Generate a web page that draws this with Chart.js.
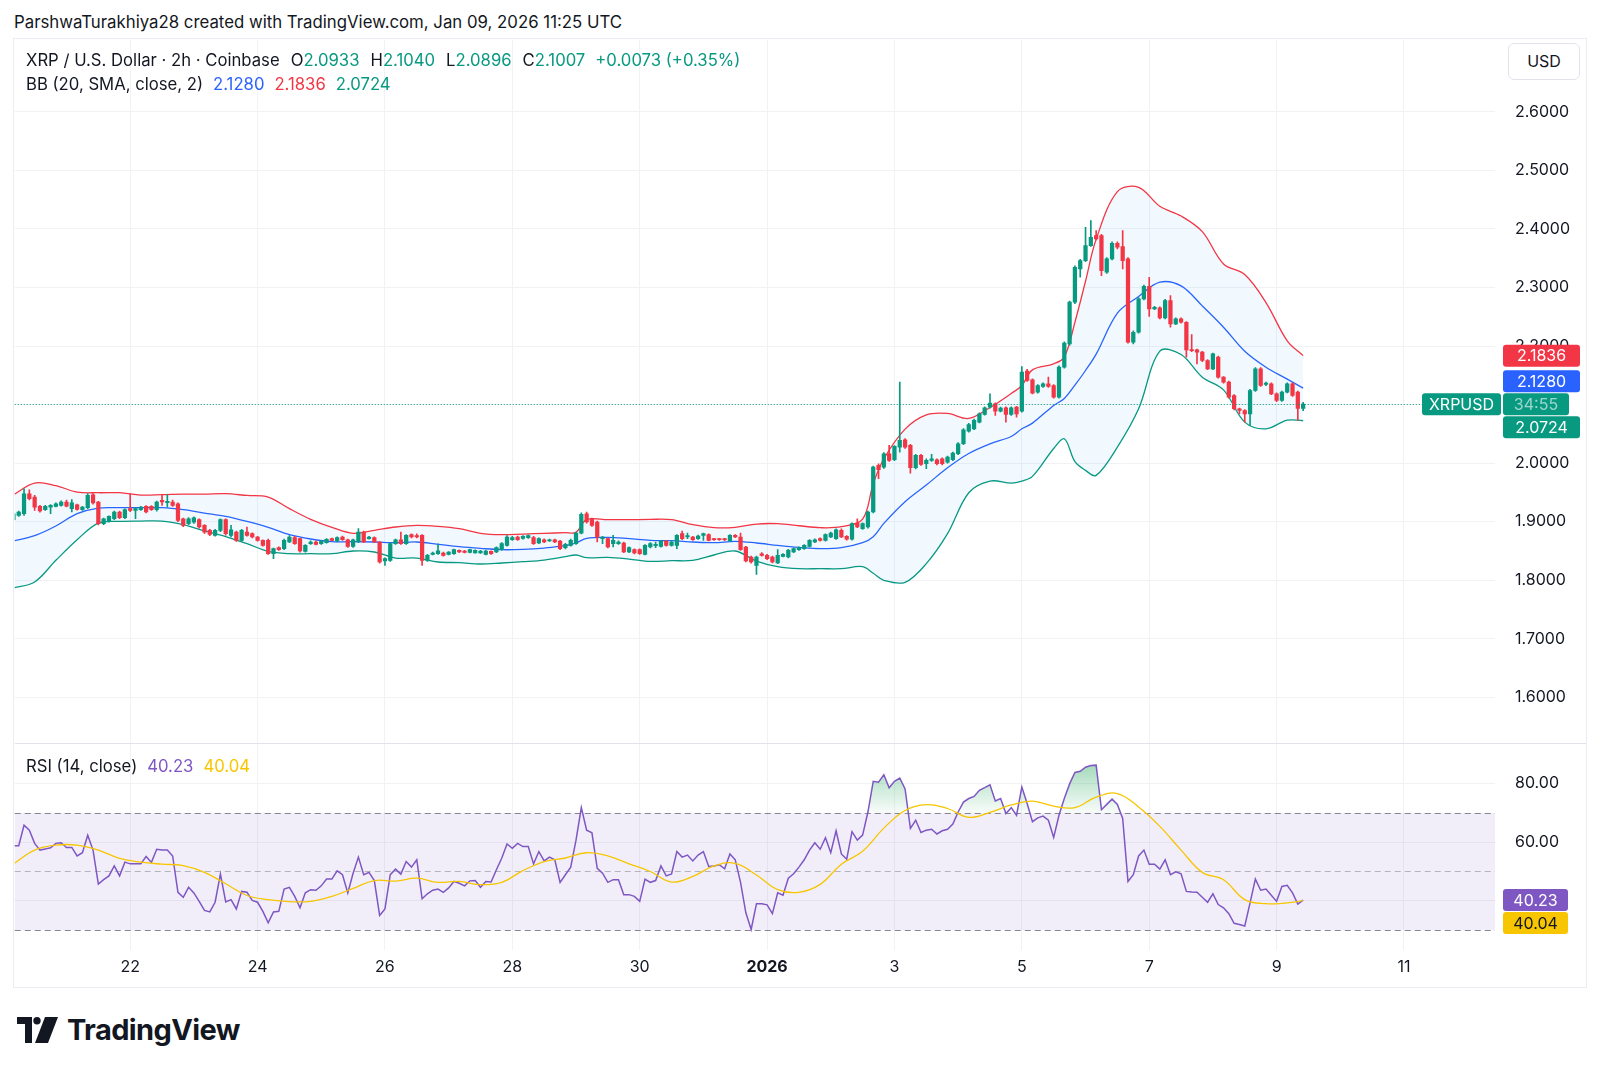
<!DOCTYPE html>
<html>
<head>
<meta charset="utf-8">
<title>XRP / U.S. Dollar · 2h · Coinbase</title>
<script src="https://cdn.jsdelivr.net/npm/chart.js@4.4.1/dist/chart.umd.min.js"></script>
<style>
  html, body { margin: 0; padding: 0; background: #fff; }
  body { width: 1600px; height: 1071px; position: relative; overflow: hidden;
         font-family: Inter, "Noto Sans", sans-serif; color: #131722; }
  #credit { position: absolute; left: 14px; top: 12px; font-size: 16.8px; line-height: 20px; white-space: nowrap; }
  #frame { position: absolute; left: 13px; top: 38px; width: 1574px; height: 950px;
           border: 1px solid #E9ECF1; box-sizing: border-box; }
  #wrap { position: absolute; left: 0; top: 0; width: 1572px; height: 948px; }
  .legend { position: absolute; left: 12px; font-size: 16.7px; line-height: 20px; white-space: nowrap; }
  .legend span { margin-left: 10px; }
  .legend span.k { margin-left: 11px; }
  .legend span.v { margin-left: 0; }
  #usd { position: absolute; left: 1494px; top: 4px; width: 72px; height: 37px; box-sizing: border-box;
         border: 1px solid #E0E3EB; border-radius: 6px; font-size: 16px; line-height: 35px; text-align: center; background: #fff; }
  #logo { position: absolute; left: 17px; top: 1016px; display: flex; align-items: center; }
  #logo span { font-size: 29px; font-weight: 700; letter-spacing: -0.6px; margin-left: 8px; line-height: 28px; }
</style>
</head>
<body>
<div id="credit">ParshwaTurakhiya28 created with TradingView.com, Jan 09, 2026 11:25 UTC</div>
<div id="frame">
  <div id="wrap"><canvas id="chart" width="1572" height="948"></canvas></div>
  <div class="legend" id="lg1" style="top:11px"></div>
  <div class="legend" id="lg2" style="top:35px"></div>
  <div class="legend" id="lg3" style="top:717px"></div>
  <div id="usd">USD</div>
</div>
<div id="logo">
  <svg width="42" height="26" viewBox="0 0 42 26">
    <path d="M0 0h15v26h-7V7H0z" fill="#131722"/>
    <circle cx="20" cy="3.7" r="3.7" fill="#131722"/>
    <path d="M28 0h13l-10 26H18z" fill="#131722"/>
  </svg>
  <span>TradingView</span>
</div>
<script>
// XRP / USD, 2h candles, Coinbase — Dec 20 04:00 UTC to Jan 9 10:00 UTC
// x values are hours after Dec 22 00:00 UTC
const firstHour = -44;
const stepHours = 2;

const tickHours = [0, 48, 96, 144, 192, 240, 288, 336, 384, 432, 480];
const tickLabels = ['22', '24', '26', '28', '30', '2026', '3', '5', '7', '9', '11'];
const priceTicks = [1.6, 1.7, 1.8, 1.9, 2.0, 2.1, 2.2, 2.3, 2.4, 2.5, 2.6];
const rsiTicks = [40, 60, 80];

const open = [
  1.9033,1.9107,1.9135,1.9477,1.9420,1.9261,1.9204,1.9249,1.9261,1.9278,
  1.9335,1.9221,1.9289,1.9204,1.9238,1.9460,1.9335,1.8965,1.9010,1.9050,
  1.9164,1.9067,1.9221,1.9190,1.9204,1.9261,1.9261,1.9204,1.9363,1.9325,
  1.9335,1.9306,1.9050,1.8965,1.8990,1.9033,1.8936,1.8851,1.8765,1.8851,
  1.9033,1.8765,1.8822,1.8680,1.8822,1.8794,1.8737,1.8680,1.8680,1.8452,
  1.8555,1.8538,1.8652,1.8726,1.8709,1.8492,1.8623,1.8652,1.8623,1.8640,
  1.8709,1.8669,1.8737,1.8691,1.8578,1.8652,1.8822,1.8709,1.8726,1.8652,
  1.8327,1.8339,1.8623,1.8691,1.8623,1.8777,1.8760,1.8765,1.8339,1.8441,
  1.8452,1.8464,1.8441,1.8452,1.8510,1.8498,1.8475,1.8464,1.8464,1.8441,
  1.8492,1.8481,1.8521,1.8595,1.8691,1.8737,1.8714,1.8726,1.8726,1.8635,
  1.8691,1.8669,1.8691,1.8669,1.8555,1.8595,1.8623,1.8805,1.9135,1.9050,
  1.8993,1.8709,1.8709,1.8623,1.8623,1.8635,1.8481,1.8521,1.8521,1.8441,
  1.8566,1.8589,1.8578,1.8669,1.8595,1.8595,1.8794,1.8737,1.8737,1.8709,
  1.8765,1.8777,1.8709,1.8709,1.8709,1.8669,1.8765,1.8737,1.8566,1.8395,
  1.8253,1.8452,1.8424,1.8395,1.8293,1.8407,1.8395,1.8481,1.8521,1.8538,
  1.8578,1.8652,1.8709,1.8680,1.8737,1.8709,1.8851,1.8748,1.8700,1.8976,
  1.8879,1.8908,1.9164,1.9960,1.9932,2.0160,2.0057,2.0273,2.0399,2.0302,
  1.9921,2.0131,1.9989,2.0046,2.0057,2.0074,2.0017,2.0057,2.0160,2.0330,
  2.0546,2.0586,2.0700,2.0831,2.0956,2.1013,2.0888,2.0945,2.0831,2.0956,
  2.0888,2.1571,2.1423,2.1212,2.1309,2.1355,2.1326,2.1127,2.1639,2.2037,
  2.2749,2.3318,2.3460,2.3716,2.3887,2.3887,2.3261,2.3488,2.3756,2.3699,
  2.3488,2.2066,2.2236,2.2806,2.3022,2.2635,2.2652,2.2481,2.2777,2.2379,
  2.2464,2.2407,2.1935,2.1935,2.1895,2.1753,2.1611,2.1810,2.1468,2.1383,
  2.1155,2.0928,2.0899,2.0842,2.1241,2.1611,2.1343,2.1354,2.1184,2.1070,
  2.1212,2.1354,2.1212,2.0933
];
const high = [
  1.9164,1.9180,1.9560,1.9545,1.9448,1.9280,1.9280,1.9290,1.9320,1.9355,
  1.9370,1.9375,1.9300,1.9260,1.9480,1.9480,1.9345,1.9060,1.9100,1.9180,
  1.9180,1.9220,1.9477,1.9235,1.9260,1.9275,1.9275,1.9350,1.9448,1.9460,
  1.9370,1.9320,1.9060,1.9070,1.9080,1.9050,1.8950,1.8870,1.8870,1.9050,
  1.9050,1.8936,1.8840,1.8870,1.8908,1.8810,1.8750,1.8690,1.8700,1.8550,
  1.8570,1.8700,1.8760,1.8750,1.8720,1.8610,1.8670,1.8670,1.8680,1.8710,
  1.8720,1.8740,1.8755,1.8700,1.8700,1.8880,1.8840,1.8750,1.8740,1.8660,
  1.8380,1.8640,1.8700,1.8822,1.8780,1.8790,1.8790,1.8780,1.8440,1.8480,
  1.8620,1.8480,1.8490,1.8530,1.8520,1.8510,1.8530,1.8520,1.8510,1.8510,
  1.8500,1.8570,1.8640,1.8760,1.8750,1.8755,1.8760,1.8775,1.8750,1.8725,
  1.8705,1.8700,1.8700,1.8680,1.8630,1.8700,1.8820,1.9150,1.9164,1.9060,
  1.9010,1.8750,1.8720,1.8765,1.8670,1.8650,1.8570,1.8535,1.8535,1.8610,
  1.8640,1.8652,1.8680,1.8680,1.8670,1.8780,1.8839,1.8805,1.8750,1.8770,
  1.8805,1.8790,1.8715,1.8715,1.8715,1.8780,1.8780,1.8805,1.8580,1.8410,
  1.8410,1.8470,1.8440,1.8410,1.8521,1.8455,1.8525,1.8550,1.8570,1.8610,
  1.8695,1.8705,1.8725,1.8790,1.8820,1.8878,1.8875,1.8760,1.8980,1.9050,
  1.8980,1.9180,1.9950,1.9989,2.0180,2.0302,2.0300,2.1383,2.0420,2.0320,
  2.0150,2.0150,2.0074,2.0148,2.0075,2.0090,2.0120,2.0190,2.0350,2.0590,
  2.0680,2.0750,2.0860,2.0960,2.1184,2.1030,2.0955,2.0960,2.0960,2.0970,
  2.1650,2.1600,2.1440,2.1340,2.1370,2.1468,2.1340,2.1660,2.2070,2.2770,
  2.3370,2.3480,2.4029,2.4143,2.3972,2.3910,2.3510,2.3780,2.3780,2.3972,
  2.3510,2.2260,2.2830,2.3040,2.3175,2.2680,2.2670,2.2800,2.2862,2.2480,
  2.2480,2.2420,2.2197,2.1950,2.1910,2.1770,2.1880,2.1830,2.1480,2.1400,
  2.1170,2.0940,2.0915,2.1260,2.1630,2.1630,2.1385,2.1370,2.1200,2.1230,
  2.1370,2.1370,2.1230,2.1040
];
const low = [
  1.9010,1.9090,1.9107,1.9370,1.9192,1.9160,1.9190,1.9135,1.9250,1.9265,
  1.9250,1.9164,1.9195,1.9190,1.9220,1.9300,1.8945,1.8950,1.8990,1.9035,
  1.9050,1.9050,1.9170,1.9050,1.9190,1.9150,1.9190,1.9180,1.9278,1.9249,
  1.9260,1.9000,1.8915,1.8950,1.8970,1.8890,1.8800,1.8760,1.8750,1.8830,
  1.8770,1.8737,1.8660,1.8660,1.8750,1.8720,1.8665,1.8580,1.8440,1.8367,
  1.8510,1.8520,1.8640,1.8610,1.8480,1.8480,1.8610,1.8600,1.8610,1.8630,
  1.8670,1.8655,1.8680,1.8560,1.8560,1.8640,1.8640,1.8700,1.8640,1.8290,
  1.8253,1.8320,1.8610,1.8610,1.8610,1.8720,1.8720,1.8253,1.8320,1.8430,
  1.8440,1.8410,1.8430,1.8440,1.8470,1.8465,1.8465,1.8460,1.8455,1.8430,
  1.8440,1.8470,1.8510,1.8580,1.8680,1.8680,1.8700,1.8715,1.8610,1.8625,
  1.8640,1.8660,1.8640,1.8520,1.8535,1.8580,1.8610,1.8790,1.8975,1.8920,
  1.8652,1.8623,1.8550,1.8566,1.8610,1.8470,1.8470,1.8450,1.8440,1.8430,
  1.8550,1.8555,1.8565,1.8580,1.8580,1.8538,1.8691,1.8709,1.8680,1.8695,
  1.8680,1.8670,1.8680,1.8680,1.8675,1.8660,1.8725,1.8510,1.8310,1.8290,
  1.8100,1.8410,1.8350,1.8295,1.8280,1.8395,1.8380,1.8470,1.8510,1.8525,
  1.8565,1.8640,1.8665,1.8665,1.8725,1.8695,1.8725,1.8685,1.8685,1.8895,
  1.8865,1.8890,1.9150,1.9733,1.9910,2.0030,2.0040,2.0188,2.0250,1.9829,
  1.9900,1.9960,1.9903,2.0030,1.9970,1.9970,2.0000,2.0040,2.0145,2.0315,
  2.0530,2.0570,2.0685,2.0820,2.0940,2.0814,2.0875,2.0700,2.0815,2.0786,
  2.0870,2.1395,2.1180,2.1195,2.1295,2.1295,2.1110,2.1110,2.1620,2.2015,
  2.2725,2.3175,2.3440,2.3700,2.3815,2.3204,2.3240,2.3470,2.3659,2.3318,
  2.2049,2.2037,2.2220,2.2790,2.2504,2.2620,2.2465,2.2465,2.2322,2.2365,
  2.2390,2.1810,2.1905,2.1696,2.1735,2.1595,2.1595,2.1450,2.1365,2.1110,
  2.0910,2.0842,2.0700,2.0643,2.1225,2.1310,2.1325,2.1170,2.1050,2.1055,
  2.1200,2.1140,2.0728,2.0896
];
const close = [
  1.9135,1.9164,1.9477,1.9391,1.9249,1.9181,1.9261,1.9278,1.9306,1.9335,
  1.9266,1.9320,1.9210,1.9249,1.9448,1.9318,1.8965,1.9050,1.9090,1.9164,
  1.9067,1.9204,1.9192,1.9221,1.9249,1.9164,1.9204,1.9335,1.9335,1.9345,
  1.9278,1.9022,1.8936,1.9050,1.9067,1.8908,1.8822,1.8782,1.8851,1.9033,
  1.8794,1.8862,1.8680,1.8851,1.8765,1.8737,1.8680,1.8595,1.8452,1.8538,
  1.8521,1.8680,1.8737,1.8623,1.8498,1.8595,1.8652,1.8612,1.8669,1.8697,
  1.8680,1.8726,1.8691,1.8578,1.8691,1.8822,1.8652,1.8737,1.8652,1.8310,
  1.8367,1.8623,1.8691,1.8623,1.8765,1.8737,1.8737,1.8339,1.8424,1.8464,
  1.8500,1.8424,1.8481,1.8521,1.8481,1.8475,1.8521,1.8510,1.8498,1.8498,
  1.8452,1.8555,1.8623,1.8737,1.8726,1.8691,1.8748,1.8760,1.8623,1.8709,
  1.8652,1.8691,1.8652,1.8538,1.8612,1.8680,1.8805,1.9124,1.8993,1.8936,
  1.8737,1.8737,1.8566,1.8680,1.8652,1.8481,1.8555,1.8464,1.8452,1.8595,
  1.8623,1.8612,1.8669,1.8595,1.8652,1.8765,1.8709,1.8760,1.8691,1.8754,
  1.8794,1.8680,1.8691,1.8691,1.8691,1.8765,1.8737,1.8521,1.8327,1.8310,
  1.8395,1.8424,1.8367,1.8310,1.8424,1.8441,1.8510,1.8538,1.8555,1.8595,
  1.8680,1.8691,1.8680,1.8777,1.8805,1.8862,1.8737,1.8700,1.8965,1.8908,
  1.8965,1.9164,1.9932,1.9886,2.0160,2.0046,2.0285,2.0387,2.0273,1.9921,
  2.0131,1.9977,2.0046,2.0074,1.9989,1.9989,2.0103,2.0171,2.0330,2.0569,
  2.0660,2.0729,2.0842,2.0945,2.1024,2.0888,2.0939,2.0831,2.0945,2.0842,
  2.1554,2.1411,2.1195,2.1326,2.1355,2.1309,2.1127,2.1639,2.2049,2.2749,
  2.3346,2.3460,2.3716,2.3858,2.3830,2.3289,2.3488,2.3756,2.3688,2.3460,
  2.2066,2.2236,2.2806,2.3022,2.2635,2.2663,2.2481,2.2777,2.2379,2.2464,
  2.2407,2.1935,2.1923,2.1895,2.1753,2.1611,2.1867,2.1468,2.1383,2.1127,
  2.0928,2.0899,2.0842,2.1241,2.1611,2.1326,2.1366,2.1184,2.1070,2.1212,
  2.1354,2.1155,2.0934,2.1007
];

// Bollinger Bands (20, SMA, close, 2), read at these candle indexes
const bbIdx = [0,4,8,12,16,20,24,28,32,36,40,44,48,52,56,60,64,68,72,76,
  80,84,88,92,96,100,104,106,108,112,116,120,124,128,132,136,140,144,148,152,
  156,160,162,164,168,172,176,180,184,188,190,192,196,198,200,202,204,208,212,216,
  220,224,228,232,236,240,243];
const bbUpper = [
  1.9460,1.9659,1.9614,1.9505,1.9494,1.9494,1.9454,1.9460,1.9471,1.9471,
  1.9477,1.9448,1.9420,1.9221,1.9039,1.8902,1.8800,1.8851,1.8908,1.8936,
  1.8919,1.8879,1.8800,1.8777,1.8788,1.8800,1.8811,1.8817,1.9033,1.9033,
  1.9033,1.9039,1.9033,1.8947,1.8896,1.8902,1.8959,1.8965,1.8930,1.8896,
  1.8913,1.9044,1.9647,2.0074,2.0581,2.0825,2.0848,2.0763,2.0950,2.1189,
  2.1326,2.1593,2.1696,2.1810,2.2407,2.3107,2.3824,2.4638,2.4712,2.4387,
  2.4222,2.3955,2.3403,2.3221,2.2743,2.2089,2.1836
];
const bbBasis = [
  1.8669,1.8760,1.8925,1.9136,1.9232,1.9238,1.9238,1.9238,1.9204,1.9147,
  1.9090,1.9004,1.8902,1.8777,1.8703,1.8657,1.8657,1.8652,1.8640,1.8652,
  1.8612,1.8572,1.8543,1.8521,1.8526,1.8549,1.8589,1.8635,1.8714,1.8731,
  1.8709,1.8680,1.8674,1.8652,1.8640,1.8663,1.8635,1.8595,1.8561,1.8538,
  1.8555,1.8640,1.8743,1.8970,1.9340,1.9625,1.9921,2.0165,2.0330,2.0455,
  2.0586,2.0683,2.0985,2.1104,2.1332,2.1582,2.1861,2.2561,2.2845,2.3090,
  2.3027,2.2686,2.2322,2.1912,2.1639,2.1434,2.1280
];
const bbLower = [
  1.7867,1.7969,1.8339,1.8692,1.8976,1.9005,1.9010,1.9010,1.8948,1.8840,
  1.8743,1.8623,1.8492,1.8452,1.8452,1.8452,1.8498,1.8481,1.8378,1.8378,
  1.8310,1.8299,1.8276,1.8293,1.8316,1.8344,1.8401,1.8430,1.8384,1.8390,
  1.8361,1.8321,1.8333,1.8339,1.8430,1.8498,1.8327,1.8231,1.8196,1.8196,
  1.8196,1.8231,1.8117,1.7997,1.7963,1.8282,1.8794,1.9494,1.9693,1.9659,
  1.9693,1.9773,2.0250,2.0416,2.0025,1.9875,1.9790,2.0273,2.0928,2.1912,
  2.1855,2.1468,2.1252,2.0700,2.0586,2.0734,2.0724
];

// RSI (14, close), one value per candle
const rsi = [
  58.8,58.8,65.8,64.1,59.6,57.3,57.7,58.1,59.6,59.8,
  58.2,58.2,55.3,56.4,62.4,57.3,45.7,47.2,48.5,51.9,
  48.5,53.2,52.6,52.6,52.6,55.1,53.1,57.6,57.3,57.3,
  55.3,42.9,41.2,44.6,42.7,39.8,36.7,36.2,39.5,49.1,
  39.6,40.4,37.2,43.2,42.9,40.1,39.5,36.4,32.5,36.2,
  36.4,44.0,44.6,41.5,37.6,42.7,43.8,43.6,45.1,47.4,
  47.4,50.2,48.9,42.7,49.4,54.9,48.9,49.7,46.9,35.0,
  37.2,48.9,50.8,49.1,53.4,51.5,54.0,40.7,42.4,43.6,
  44.0,42.9,44.4,46.6,46.0,45.1,46.8,46.9,44.6,46.6,
  46.4,50.6,54.5,59.4,57.9,59.6,58.5,58.5,52.6,56.8,
  53.6,54.9,54.0,46.3,48.9,51.5,60.7,71.8,64.1,63.2,
  51.1,49.4,46.3,47.2,47.2,42.1,42.1,41.5,39.8,47.4,
  46.3,46.9,51.9,48.5,49.2,56.8,54.9,55.6,53.6,55.6,
  56.8,51.7,51.9,52.3,50.9,56.0,54.0,46.3,35.9,30.2,
  39.0,39.0,38.6,35.6,42.7,41.9,47.7,49.2,51.5,54.0,
  57.3,59.8,57.6,61.5,56.4,63.9,56.0,54.2,63.6,60.7,
  62.4,70.3,80.8,80.5,83.0,78.6,80.8,81.9,78.2,64.7,
  67.5,63.3,64.1,64.4,62.8,63.9,64.4,66.2,70.3,73.7,
  74.9,75.6,77.7,78.6,79.6,74.1,74.9,69.8,71.8,69.2,
  78.8,73.2,67.0,68.3,68.9,67.5,61.6,69.2,74.9,79.9,
  83.8,84.2,85.6,86.2,86.3,71.1,72.9,74.7,72.9,68.1,
  46.6,48.9,55.3,57.3,52.5,52.5,50.8,54.0,48.9,49.9,
  49.2,43.2,43.0,42.9,41.2,39.5,42.4,38.7,37.6,35.6,
  32.3,31.9,31.4,39.3,47.4,43.6,44.0,41.9,39.8,44.9,
  45.3,42.7,38.9,40.23
];
// RSI-based MA, read every 4th candle
const maIdx = [0,4,8,12,16,20,24,28,32,36,40,44,48,52,56,60,64,68,72,76,
  80,84,88,92,96,100,104,108,112,116,120,124,128,132,136,140,144,148,152,156,
  160,164,168,172,176,180,184,188,192,196,200,204,208,212,216,220,224,228,232,236,
  240,243];
const rsiMa = [
  52.6,57.3,59.0,59.0,57.3,54.5,53.2,52.5,52.0,49.7,
  45.8,41.8,40.4,39.7,39.8,41.5,44.2,46.9,46.7,47.7,
  46.3,46.6,45.5,46.3,50.3,53.4,54.6,56.4,55.3,52.6,
  50.0,46.4,48.3,51.9,52.8,48.8,43.8,42.9,45.6,52.5,
  56.9,64.8,70.8,72.8,71.5,68.5,70.2,72.7,74.0,72.3,
  71.8,75.4,76.6,72.0,65.4,57.3,49.7,47.2,40.4,39.0,
  39.3,40.04
];

const FONT = 'Inter, "Noto Sans", sans-serif';
const TEXT = '#131722';
const UP = '#089981', DOWN = '#F23645', BLUE = '#2962FF', PURPLE = '#7E57C2', YELLOW = '#F7C600';
const GRID = '#F0F2F5';

Chart.defaults.font.family = FONT;
Chart.defaults.font.size = 16;
Chart.defaults.color = TEXT;

const hours = close.map((c, i) => firstHour + i * stepHours);
const candleColor = close.map((c, i) => c >= open[i] ? UP : DOWN);
const onBars = (idx, vals) => idx.map((k, j) => ({ x: hours[k], y: vals[j] }));

const last = close.length - 1;
const fmt4 = v => v.toFixed(4);

// legends
const chg = close[last] - close[last - 1];
const sign = chg >= 0 ? '+' : '';
const g = t => `<span class="v" style="color:${UP}">${t}</span>`;
document.getElementById('lg1').innerHTML =
  `XRP / U.S. Dollar · 2h · Coinbase<span class="k">O</span>${g(fmt4(open[last]))}` +
  `<span class="k">H</span>${g(fmt4(high[last]))}<span class="k">L</span>${g(fmt4(low[last]))}` +
  `<span class="k">C</span>${g(fmt4(close[last]))}` +
  `<span style="color:${UP}">${sign}${chg.toFixed(4)} (${sign}${(chg / close[last - 1] * 100).toFixed(2)}%)</span>`;
document.getElementById('lg2').innerHTML =
  `BB (20, SMA, close, 2)<span style="color:${BLUE}">${fmt4(bbBasis.at(-1))}</span>` +
  `<span style="color:${DOWN}">${fmt4(bbUpper.at(-1))}</span><span style="color:${UP}">${fmt4(bbLower.at(-1))}</span>`;
document.getElementById('lg3').innerHTML =
  `RSI (14, close)<span style="color:${PURPLE}">${rsi[last].toFixed(2)}</span>` +
  `<span style="color:${YELLOW}">${rsiMa.at(-1).toFixed(2)}</span>`;

function tag(ctx, x, yc, w, bg, text, fg) {
  ctx.fillStyle = bg;
  ctx.beginPath();
  ctx.roundRect(x, yc - 11, w, 22, 3);
  ctx.fill();
  ctx.fillStyle = fg;
  ctx.textAlign = 'center';
  ctx.textBaseline = 'middle';
  ctx.fillText(text, x + w / 2, yc + 1);
}

// push labels apart like the price scale does
function spread(items, fixed, h) {
  const ref = items[fixed];
  ref.py = ref.ny;
  const placed = [ref];
  items.filter(it => it !== ref)
    .sort((a, b) => Math.abs(a.ny - ref.ny) - Math.abs(b.ny - ref.ny))
    .forEach(it => {
      const dir = it.ny < ref.ny ? -1 : 1;
      let y = it.ny, moved = true;
      while (moved) {
        moved = false;
        for (const p of placed) {
          if (Math.abs(y - p.py) < h) { y = p.py + dir * h; moved = true; }
        }
      }
      it.py = y;
      placed.push(it);
    });
}

const panes = {
  id: 'panes',
  beforeDatasetsDraw(chart) {
    const { ctx, chartArea: a, scales: { y, yr } } = chart;
    ctx.save();
    const y70 = yr.getPixelForValue(70), y50 = yr.getPixelForValue(50), y30 = yr.getPixelForValue(30);
    ctx.fillStyle = 'rgba(126,87,194,0.1)';
    ctx.fillRect(a.left, y70, a.right - a.left, y30 - y70);
    ctx.lineWidth = 1;
    ctx.setLineDash([6, 4]);
    [[y70, 0.9], [y50, 0.5], [y30, 0.9]].forEach(([yy, al]) => {
      ctx.strokeStyle = `rgba(120,123,134,${al})`;
      ctx.beginPath();
      ctx.moveTo(a.left, Math.round(yy) + 0.5);
      ctx.lineTo(a.right, Math.round(yy) + 0.5);
      ctx.stroke();
    });
    ctx.setLineDash([]);
    ctx.strokeStyle = '#E0E3EB';
    ctx.beginPath();
    ctx.moveTo(a.left, Math.round(y.bottom) + 0.5);
    ctx.lineTo(chart.width, Math.round(y.bottom) + 0.5);
    ctx.stroke();
    ctx.restore();
  },
  afterDatasetsDraw(chart) {
    const { ctx, chartArea: a, scales: { y } } = chart;
    const py = Math.round(y.getPixelForValue(close[last])) + 0.5;
    ctx.save();
    ctx.strokeStyle = UP;
    ctx.lineWidth = 1;
    ctx.setLineDash([1, 2]);
    ctx.beginPath();
    ctx.moveTo(a.left, py);
    ctx.lineTo(a.right, py);
    ctx.stroke();
    ctx.restore();
  },
  afterDraw(chart) {
    const { ctx, scales: { y, yr } } = chart;
    ctx.save();
    ctx.font = `16px ${FONT}`;
    const x0 = y.left + 8;
    const price = [
      { ny: y.getPixelForValue(bbUpper.at(-1)), bg: DOWN, t: fmt4(bbUpper.at(-1)), fg: '#fff', w: 77 },
      { ny: y.getPixelForValue(bbBasis.at(-1)), bg: BLUE, t: fmt4(bbBasis.at(-1)), fg: '#fff', w: 77 },
      { ny: y.getPixelForValue(close[last]), bg: UP, t: '34:55', fg: 'rgba(255,255,255,0.6)', w: 66 },
      { ny: y.getPixelForValue(bbLower.at(-1)), bg: UP, t: fmt4(bbLower.at(-1)), fg: '#fff', w: 77 }
    ];
    spread(price, 2, 23);
    price.forEach(p => tag(ctx, x0, p.py, p.w, p.bg, p.t, p.fg));
    tag(ctx, y.left - 73, price[2].py, 79, UP, 'XRPUSD', '#fff');
    const osc = [
      { ny: yr.getPixelForValue(rsi[last]), bg: PURPLE, t: rsi[last].toFixed(2), fg: '#fff', w: 65 },
      { ny: yr.getPixelForValue(rsiMa.at(-1)), bg: YELLOW, t: rsiMa.at(-1).toFixed(2), fg: TEXT, w: 65 }
    ];
    spread(osc, 0, 23);
    osc.forEach(p => tag(ctx, x0, p.py, p.w, p.bg, p.t, p.fg));
    ctx.restore();
  }
};

const line = (data, color, axis, extra) => Object.assign({
  type: 'line', data, borderColor: color, borderWidth: 1.3, pointRadius: 0,
  tension: 0.35, fill: false, yAxisID: axis
}, extra);

// fixed scale width, and no extra top/bottom room for the edge labels
const fitSide = s => { s.width = 91; s.paddingTop = 0; s.paddingBottom = 0; };

const chart = new Chart(document.getElementById('chart'), {
  type: 'bar',
  data: {
    datasets: [
      { type: 'bar', label: 'body', data: hours.map((x, i) => ({ x, y: [open[i], close[i]] })),
        backgroundColor: candleColor, barThickness: 3.6, minBarLength: 1, grouped: false, yAxisID: 'y', order: 1 },
      { type: 'bar', label: 'wick', data: hours.map((x, i) => ({ x, y: [low[i], high[i]] })),
        backgroundColor: candleColor, barThickness: 1, grouped: false, yAxisID: 'y', order: 2 },
      line(onBars(bbIdx, bbUpper), DOWN, 'y', { label: 'BB upper', fill: '+1', backgroundColor: 'rgba(33,150,243,0.06)', order: 3 }),
      line(onBars(bbIdx, bbLower), UP, 'y', { label: 'BB lower', order: 3 }),
      line(onBars(bbIdx, bbBasis), BLUE, 'y', { label: 'BB basis', order: 3 }),
      line(hours.map((x, i) => ({ x, y: rsi[i] })), PURPLE, 'yr', { label: 'RSI', tension: 0, borderWidth: 1.5,
        fill: { target: { value: 70 }, above: 'rgba(38,166,91,0.22)', below: 'rgba(0,0,0,0)' }, order: 5 }),
      line(onBars(maIdx, rsiMa), YELLOW, 'yr', { label: 'RSI MA', tension: 0.4, order: 4 })
    ]
  },
  options: {
    responsive: false,
    animation: false,
    events: [],
    layout: { padding: 0 },
    plugins: { legend: { display: false }, tooltip: { enabled: false } },
    scales: {
      x: {
        type: 'linear', min: -43.5, max: 514.3, offset: false,
        afterBuildTicks: s => { s.ticks = tickHours.map(v => ({ value: v })); },
        afterFit: s => { s.height = 37; s.paddingLeft = 0; s.paddingRight = 0; },
        grid: { color: GRID, offset: false, drawTicks: false },
        border: { display: false },
        ticks: {
          autoSkip: false, maxRotation: 0, padding: 8, color: TEXT,
          font: c => ({ family: FONT, size: 16, weight: c.tick && c.tick.value === 240 ? 'bold' : 'normal' }),
          callback: (v, i) => tickLabels[i]
        }
      },
      y: {
        type: 'linear', position: 'right', stack: 'panes', stackWeight: 704, min: 1.5215, max: 2.7233,
        afterBuildTicks: s => { s.ticks = priceTicks.map(v => ({ value: v })); },
        afterFit: fitSide,
        grid: { color: GRID, drawTicks: false },
        border: { display: false },
        ticks: { padding: 20, color: TEXT, callback: v => v.toFixed(4) }
      },
      yr: {
        type: 'linear', position: 'right', stack: 'panes', stackWeight: 207, min: 23.2, max: 93.8,
        afterBuildTicks: s => { s.ticks = rsiTicks.map(v => ({ value: v })); },
        afterFit: fitSide,
        grid: { color: GRID, drawTicks: false },
        border: { display: false },
        ticks: { padding: 20, color: TEXT, callback: v => v.toFixed(2) }
      }
    }
  },
  plugins: [panes]
});

// green overbought fill fades toward the 70 line
{
  const yr = chart.scales.yr;
  const grad = chart.ctx.createLinearGradient(0, yr.getPixelForValue(88), 0, yr.getPixelForValue(70));
  grad.addColorStop(0, 'rgba(38,166,91,0.45)');
  grad.addColorStop(1, 'rgba(38,166,91,0.03)');
  chart.data.datasets[5].fill.above = grad;
  chart.update('none');
}
</script>
</body>
</html>
